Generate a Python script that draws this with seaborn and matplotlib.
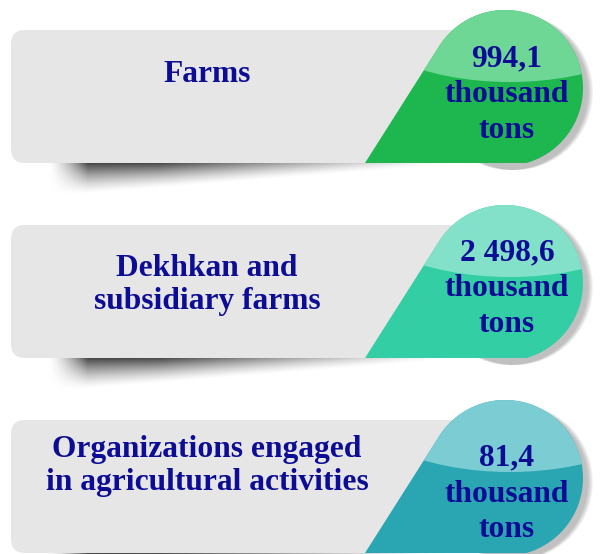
import numpy as np
import matplotlib
matplotlib.use("Agg")
import matplotlib.pyplot as plt
import seaborn as sns
from matplotlib.patches import FancyBboxPatch, Ellipse, Circle, PathPatch
from matplotlib.path import Path

# дані
categories = ["Farms", "Dekhkan and\nsubsidiary farms",
              "Organizations engaged\nin agricultural activities"]
values = [994.1, 2498.6, 81.4]
unit = "thousand\ntons"
dark_cols = ["#1db64f", "#33cea4", "#2aa6b2"]
light_cols = ["#6fd796", "#84e1c9", "#7cccd4"]

sns.set_theme(style="white")
plt.rcParams["font.family"] = ["Liberation Serif", "DejaVu Serif"]

W, H = 606, 554
fig = plt.figure(figsize=(W / 100, H / 100), dpi=100)
ax = fig.add_axes([0, 0, 1, 1])
ax.set_xlim(0, W)
ax.set_ylim(H, 0)
ax.axis("off")

txt_col = "#0c0c94"
step = 195
panel_h = 133
r = 78


def fmt(v):
    s = f"{v:,.1f}"
    return s.replace(",", " ").replace(".", ",")


def drop_path(cx, cy, px, py, bottom):
    d = np.hypot(px - cx, py - cy)
    phi = np.arctan2(py - cy, px - cx)
    t0 = phi + np.arccos(r / d)
    t1 = 2 * np.pi + np.arcsin(min((bottom - cy) / r, 1))
    ts = np.linspace(t0, t1, 120)
    pts = [(px, py)] + [(cx + r * np.cos(t), cy + r * np.sin(t)) for t in ts]
    pts.append((px, bottom))
    return Path(pts + [pts[0]], closed=True)


def shadow_img():
    xs = np.arange(40, 470) + 0.5
    ys = np.arange(0, 42) + 0.5
    X, Y = np.meshgrid(xs, ys)
    thick = np.interp(X, [50, 200, 440], [36, 24, 5])
    fy = np.clip(1 - Y / thick, 0, 1) ** 1.4
    fx = np.clip((X - 48) / 40, 0, 1) ** 1.5 * np.interp(X, [50, 160, 300, 450], [1, 1, 0.5, 0])
    a = 0.8 * fx * fy
    img = np.zeros(X.shape + (4,))
    img[..., 3] = a
    return img


shimg = shadow_img()

for i, (cat, val) in enumerate(zip(categories, values)):
    top = 30 + i * step
    bot = top + panel_h
    cx, cy = 505, top + 58

    # тінь під панеллю
    ax.imshow(shimg, extent=(40, 470, bot + 40, bot - 2), zorder=1,
              interpolation="bilinear", aspect="auto")

    # сіра панель
    ax.add_patch(FancyBboxPatch((11, top), 470, panel_h,
                                boxstyle="round,pad=0,rounding_size=14",
                                fc="#e6e6e6", ec="none", zorder=2))

    # тінь краплі
    for k in range(6):
        ax.add_patch(Circle((cx + 5 + k, cy + 4), r, color="#555555",
                            alpha=0.07, lw=0, zorder=3))

    path = drop_path(cx, cy, 365, bot, bot)
    drop = PathPatch(path, fc=dark_cols[i], ec="none", zorder=4)
    ax.add_patch(drop)
    hl = Ellipse((cx + 5, cy - 84), 4.2 * r, 2.0 * r,
                 fc=light_cols[i], ec="none", zorder=5)
    ax.add_patch(hl)
    hl.set_clip_path(drop)

    # підписи
    lab_y = [top + 45, top + 60, top + 46][i]
    ax.text(207, lab_y, cat, ha="center", va="center", fontsize=22.7,
            fontweight="bold", color=txt_col, zorder=7, linespacing=1.22)
    val_y = [top + 65, top + 64, top + 74][i]
    ax.text(507, val_y, f"{fmt(val)}\n{unit}", ha="center", va="center",
            fontsize=22.7, fontweight="bold", color=txt_col, zorder=7,
            linespacing=1.3)

fig.savefig("out.png", dpi=100, facecolor="white")
plt.close(fig)
